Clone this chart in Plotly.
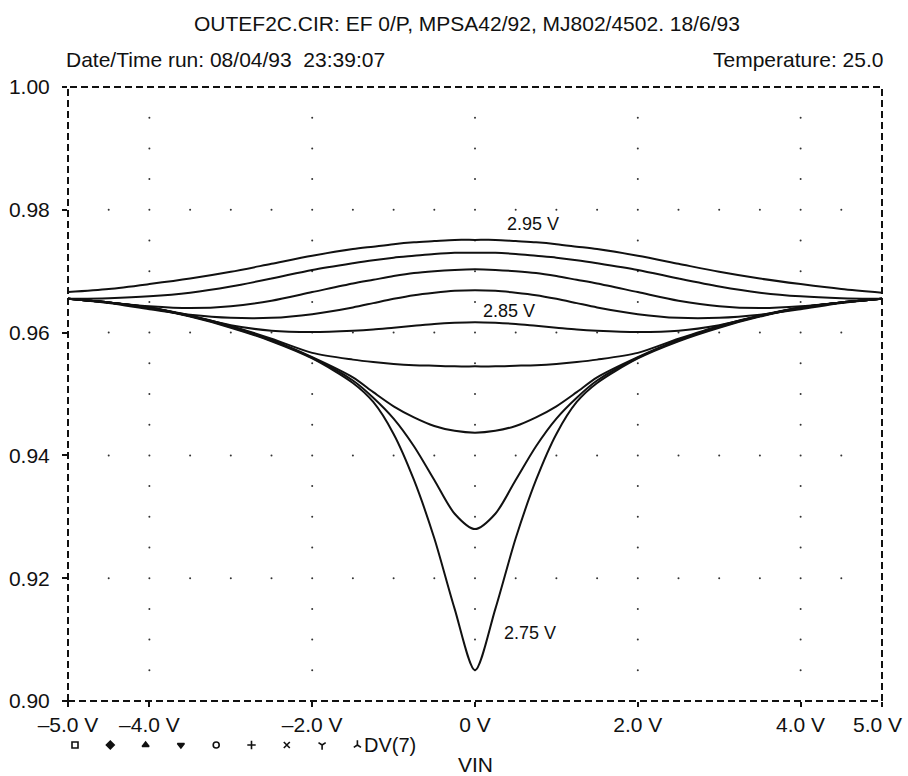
import plotly.graph_objects as go

# ---------------- data ----------------
vin = [-5, -4.5, -4, -3.5, -3, -2.5, -2, -1.5, -1.25, -1, -0.75, -0.5, -0.25, 0,
       0.25, 0.5, 0.75, 1, 1.25, 1.5, 2, 2.5, 3, 3.5, 4, 4.5, 5]

dv_295 = [0.9666, 0.9671, 0.9679, 0.9688, 0.9699, 0.9712, 0.9725, 0.9736, 0.9740, 0.9744, 0.9747, 0.9749, 0.9751, 0.9751,
          0.9751, 0.9749, 0.9747, 0.9744, 0.9740, 0.9736, 0.9725, 0.9712, 0.9699, 0.9688, 0.9679, 0.9671, 0.9665]
dv_2925 = [0.9655, 0.9656, 0.9659, 0.9665, 0.9675, 0.9688, 0.9702, 0.9713, 0.9718, 0.9722, 0.9725, 0.9728, 0.9730, 0.9730,
           0.9730, 0.9728, 0.9725, 0.9722, 0.9718, 0.9713, 0.9702, 0.9688, 0.9675, 0.9665, 0.9659, 0.9656, 0.9655]
dv_290 = [0.9655, 0.9649, 0.9643, 0.9640, 0.9643, 0.9652, 0.9666, 0.9680, 0.9686, 0.9692, 0.9697, 0.9700, 0.9702, 0.9703,
          0.9702, 0.9700, 0.9697, 0.9692, 0.9686, 0.9680, 0.9666, 0.9652, 0.9643, 0.9640, 0.9643, 0.9649, 0.9655]
dv_2875 = [0.9655, 0.9648, 0.9638, 0.9629, 0.9624, 0.9624, 0.9630, 0.9641, 0.9648, 0.9655, 0.9661, 0.9665, 0.9668, 0.9669,
           0.9668, 0.9665, 0.9661, 0.9655, 0.9648, 0.9641, 0.9630, 0.9624, 0.9624, 0.9629, 0.9638, 0.9648, 0.9655]
dv_285 = [0.9655, 0.9649, 0.9641, 0.9627, 0.9612, 0.9603, 0.9601, 0.9603, 0.9605, 0.9608, 0.9611, 0.9614, 0.9616, 0.9617,
          0.9616, 0.9614, 0.9611, 0.9608, 0.9605, 0.9603, 0.9601, 0.9603, 0.9612, 0.9627, 0.9641, 0.9649, 0.9655]
dv_2825 = [0.9655, 0.9649, 0.9641, 0.9628, 0.9611, 0.9590, 0.9567, 0.9556, 0.9552, 0.9549, 0.9547, 0.9546, 0.9545, 0.9545,
           0.9545, 0.9546, 0.9547, 0.9549, 0.9552, 0.9556, 0.9567, 0.9590, 0.9611, 0.9628, 0.9641, 0.9649, 0.9655]
dv_280 = [0.9655, 0.9649, 0.9641, 0.9627, 0.9610, 0.9588, 0.9560, 0.9527, 0.9503, 0.9480, 0.9462, 0.9448, 0.9440, 0.9437,
          0.9440, 0.9448, 0.9462, 0.9480, 0.9503, 0.9527, 0.9560, 0.9588, 0.9610, 0.9627, 0.9641, 0.9649, 0.9655]
dv_2775 = [0.9655, 0.9649, 0.9640, 0.9627, 0.9609, 0.9587, 0.9559, 0.9522, 0.9494, 0.9460, 0.9415, 0.9360, 0.9305, 0.9280,
           0.9305, 0.9360, 0.9415, 0.9460, 0.9494, 0.9522, 0.9559, 0.9587, 0.9609, 0.9627, 0.9640, 0.9649, 0.9655]
dv_275 = [0.9655, 0.9649, 0.9640, 0.9626, 0.9608, 0.9586, 0.9558, 0.9518, 0.9487, 0.9435, 0.9360, 0.9265, 0.9150, 0.9050,
          0.9150, 0.9265, 0.9360, 0.9435, 0.9487, 0.9518, 0.9558, 0.9586, 0.9608, 0.9626, 0.9640, 0.9649, 0.9655]

series = [dv_295, dv_2925, dv_290, dv_2875, dv_285, dv_2825, dv_280, dv_2775, dv_275]

NB = "\u00a0"
# the last label (5.0 V) is drawn as a right-aligned annotation so it stays inside the page
x_tickvals = [-5, -4, -2, 0, 2, 4, 5]
x_ticktext = ["\u20135.0 V", "\u20134.0 V", "\u20132.0 V", "0 V", "2.0 V", "4.0 V", ""]
x_end_label = "5.0 V"
y_tickvals = [0.90, 0.92, 0.94, 0.96, 0.98, 1.00]
y_ticktext = ["0.90", "0.92", "0.94", "0.96", "0.98", "1.00"]

grid_x = [-4, -2, 0, 2, 4]
grid_y = [0.92, 0.94, 0.96, 0.98]

curve_labels = ["2.95 V", "2.85 V", "2.75 V"]
curve_label_x = [0.71, 0.42, 0.68]
curve_label_y = [0.9777, 0.9635, 0.9111]

legend_symbols = ["square-open", "diamond", "triangle-up", "triangle-down", "circle-open",
                  "cross-thin-open", "x-thin-open", "y-down-open", "y-up-open"]
legend_label = "DV(7)"

title_text = "OUTEF2C.CIR: EF 0/P, MPSA42/92, MJ802/4502. 18/6/93"
date_text = "Date/Time run: 08/04/93" + NB + NB + "23:39:07"
temp_text = "Temperature: 25.0"
x_title = "VIN"

# ---------------- layout geometry (pixels) ----------------
W, H = 908, 776
L, R, T, B = 68, 882, 87, 701
FONT = "Liberation Sans, Arial, sans-serif"
INK = "#111111"

fig = go.Figure()

# dotted grid (dots along the grid lines)
gx, gy = [], []
ny = round((1.0 - 0.90) / 0.005)
for xv in grid_x:
    for k in range(1, ny):
        gx.append(xv)
        gy.append(0.90 + k * 0.005)
for yv in grid_y:
    for k in range(1, 20):
        xv = -5 + k * 0.5
        if xv in grid_x:
            continue
        gx.append(xv)
        gy.append(yv)
fig.add_trace(go.Scatter(x=gx, y=gy, mode="markers",
                         marker=dict(size=2, color="#333333", line=dict(width=0)),
                         hoverinfo="skip", showlegend=False))

for s in series:
    fig.add_trace(go.Scatter(x=vin, y=s, mode="lines",
                             line=dict(color=INK, width=2, shape="spline", smoothing=0.8),
                             showlegend=False))

# legend symbol row under the axis (on a full-figure pixel overlay)
leg_x = [75 + i * 35.3 for i in range(len(legend_symbols))]
leg_y = [745] * len(legend_symbols)
fig.add_trace(go.Scatter(x=leg_x, y=leg_y, xaxis="x2", yaxis="y2", mode="markers",
                         showlegend=False, hoverinfo="skip",
                         marker=dict(symbol=legend_symbols, size=6, color=INK,
                                     line=dict(width=1.6, color=INK))))

# dashed border around the plot area
fig.add_shape(type="rect", xref="x domain", yref="y domain", x0=0, y0=0, x1=1, y1=1,
              line=dict(color=INK, width=2, dash="7px,4px"), layer="above")

ann = []
for t, xv, yv in zip(curve_labels, curve_label_x, curve_label_y):
    ann.append(dict(x=xv, y=yv, xref="x", yref="y", text=t, showarrow=False,
                    font=dict(family=FONT, size=18, color=INK)))


def fig_text(text, xp, yp, size, xanchor="center"):
    ann.append(dict(x=xp / W, y=1 - yp / H, xref="paper", yref="paper", text=text,
                    xanchor=xanchor, yanchor="middle", showarrow=False,
                    font=dict(family=FONT, size=size, color=INK)))


fig_text(title_text, 467, 23, 21)
fig_text(date_text, 64, 60, 21, "left")
fig_text(temp_text, 885, 60, 21, "right")
fig_text(x_end_label, 904, 724, 21, "right")
fig_text(x_title, 475, 764, 21)
fig_text(legend_label, 362, 745, 20, "left")

fig.update_layout(
    width=W, height=H,
    margin=dict(l=0, r=0, t=0, b=0, autoexpand=False),
    paper_bgcolor="white", plot_bgcolor="rgba(0,0,0,0)",
    annotations=ann,
    xaxis=dict(domain=[L / W, R / W], anchor="y", range=[-5, 5], automargin=False,
               tickvals=x_tickvals, ticktext=x_ticktext, ticklabeloverflow="allow",
               showgrid=False, zeroline=False, showline=False,
               ticks="outside", ticklen=5, tickwidth=1.5, tickcolor=INK,
               tickfont=dict(family=FONT, size=21, color=INK)),
    yaxis=dict(domain=[1 - B / H, 1 - T / H], anchor="x", range=[0.90, 1.00], automargin=False,
               tickvals=y_tickvals, ticktext=y_ticktext, ticklabeloverflow="allow",
               showgrid=False, zeroline=False, showline=False,
               ticks="outside", ticklen=5, tickwidth=1.5, tickcolor=INK,
               ticklabelstandoff=8,
               tickfont=dict(family=FONT, size=21, color=INK)),
    xaxis2=dict(domain=[0, 1], anchor="y2", range=[0, W], visible=False,
                fixedrange=True, automargin=False),
    yaxis2=dict(domain=[0, 1], anchor="x2", range=[H, 0], visible=False,
                fixedrange=True, automargin=False),
)

fig.write_html("out.html", config={"displayModeBar": False},
               post_script="document.body.style.margin='0px';")
